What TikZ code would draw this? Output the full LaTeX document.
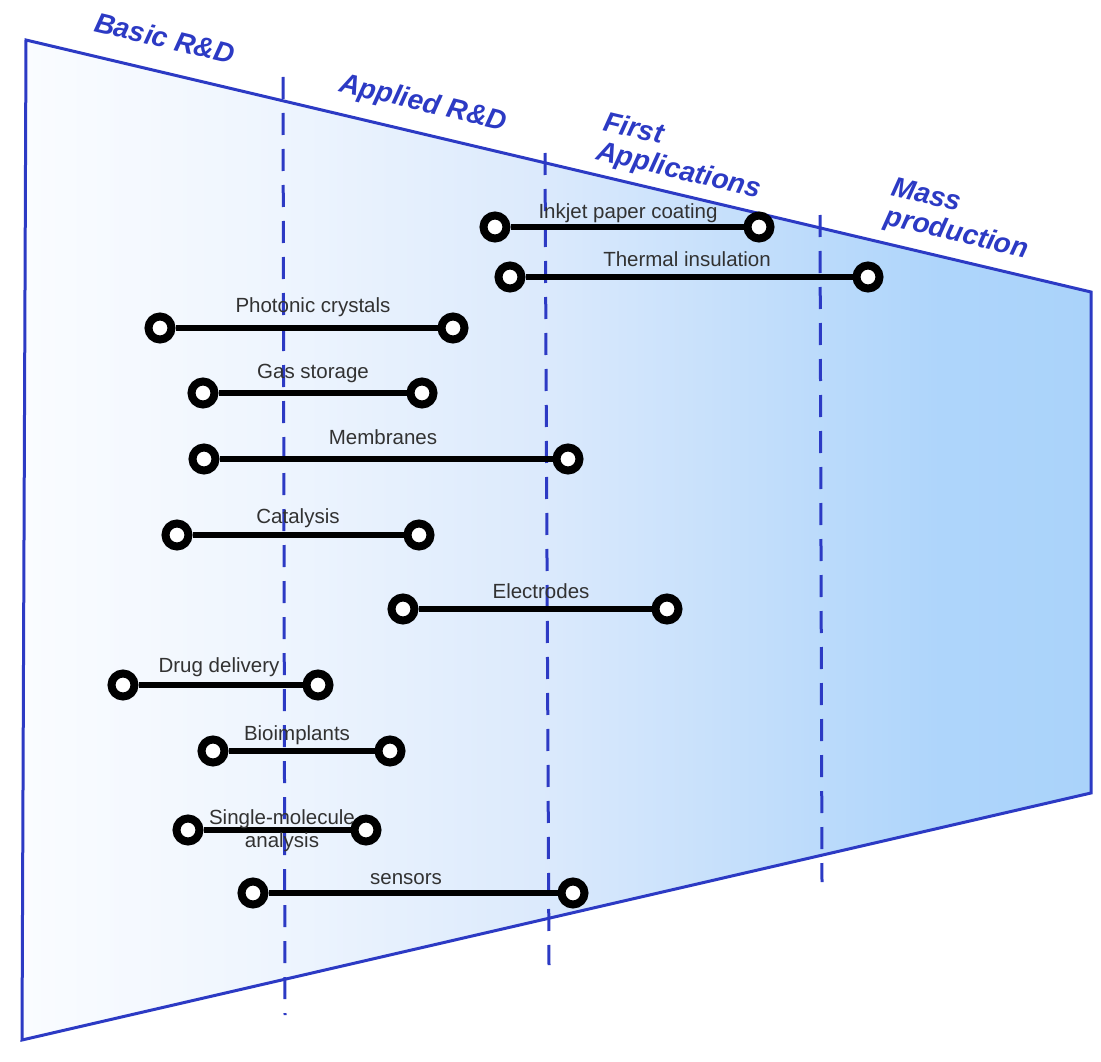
\documentclass[tikz,border=0pt]{standalone}
\usepackage{fontspec}
\setmainfont{Liberation Sans}
\definecolor{stageblue}{RGB}{44,58,196}
\definecolor{labelgray}{RGB}{50,50,50}
\definecolor{sf0}{RGB}{250,252,255}
\definecolor{sf1}{RGB}{238,245,254}
\definecolor{sf2}{RGB}{220,234,252}
\definecolor{sf3}{RGB}{188,219,251}
\definecolor{sf4}{RGB}{174,213,251}
\definecolor{sf5}{RGB}{170,211,250}
\pgfdeclarehorizontalshading{stagefill}{100bp}{color(0bp)=(sf0); color(25bp)=(sf0); color(37bp)=(sf1); color(49bp)=(sf2); color(62bp)=(sf3); color(68bp)=(sf4); color(75bp)=(sf5); color(100bp)=(sf5)}
\tikzset{
  ring/.style={circle, draw=black, fill=white, line width=8pt, minimum size=23pt, inner sep=0pt},
  bar/.style={draw=black, line width=6pt},
  applabel/.style={text=labelgray, font=\fontsize{20.5}{23}\selectfont, inner sep=0pt, align=center},
  stagelabel/.style={text=stageblue, font=\fontsize{28}{30}\selectfont\bfseries\itshape, inner sep=0pt, align=left, rotate=-13.3},
  divider/.style={draw=stageblue, line width=3pt, dash pattern=on 22pt off 14pt},
  frame/.style={draw=stageblue, line width=3pt, line join=miter}
}
\begin{document}
\begin{tikzpicture}[x=1pt, y=-1pt]
\useasboundingbox (0,0) rectangle (1101,1062);

% funnel of development stages
\coordinate (tl) at (26,40);
\coordinate (tr) at (1091,292);
\coordinate (br) at (1091,793);
\coordinate (bl) at (22,1040);
\shade[shading=stagefill] (tl) -- (tr) -- (br) -- (bl) -- cycle;

% stage dividers
\draw[divider] (283,77) -- (285,1015);
\draw[divider] (545,153) -- (549,965);
\draw[divider] (820,215) -- (822,882);

\draw[frame] (tl) -- (tr) -- (br) -- (bl) -- cycle;

% stage names
\node[stagelabel] (basic) at (165,38) {Basic R\&D};
\node[stagelabel] (applied) at (423,104) {Applied R\&D};
\node[stagelabel] (first) at (682,157) {First\\Applications};
\node[stagelabel] (mass) at (960,220) {Mass\\production};

% application ranges
\node[ring] (inkL) at (495,227) {};
\node[ring] (inkR) at (759,227) {};
\draw[bar] (inkL) -- (inkR);
\node[applabel] (inkT) at (628,213) {Inkjet paper coating};

\node[ring] (thL) at (510,277) {};
\node[ring] (thR) at (868,277) {};
\draw[bar] (thL) -- (thR);
\node[applabel] (thT) at (687,259) {Thermal insulation};

\node[ring] (phL) at (160,328) {};
\node[ring] (phR) at (453,328) {};
\draw[bar] (phL) -- (phR);
\node[applabel] (phT) at (313,307) {Photonic crystals};

\node[ring] (gsL) at (203,393) {};
\node[ring] (gsR) at (422,393) {};
\draw[bar] (gsL) -- (gsR);
\node[applabel] (gsT) at (313,373) {Gas storage};

\node[ring] (mbL) at (204,459) {};
\node[ring] (mbR) at (568,459) {};
\draw[bar] (mbL) -- (mbR);
\node[applabel] (mbT) at (383,437) {Membranes};

\node[ring] (caL) at (177,535) {};
\node[ring] (caR) at (419,535) {};
\draw[bar] (caL) -- (caR);
\node[applabel] (caT) at (298,518) {Catalysis};

\node[ring] (elL) at (403,609) {};
\node[ring] (elR) at (667,609) {};
\draw[bar] (elL) -- (elR);
\node[applabel] (elT) at (541,591) {Electrodes};

\node[ring] (ddL) at (123,685) {};
\node[ring] (ddR) at (318,685) {};
\draw[bar] (ddL) -- (ddR);
\node[applabel] (ddT) at (219,667) {Drug delivery};

\node[ring] (biL) at (213,751) {};
\node[ring] (biR) at (390,751) {};
\draw[bar] (biL) -- (biR);
\node[applabel] (biT) at (297,735) {Bioimplants};

\node[ring] (smL) at (188,830) {};
\node[ring] (smR) at (366,830) {};
\draw[bar] (smL) -- (smR);
\node[applabel] (smT) at (282,831) {Single-molecule\\analysis};

\node[ring] (snL) at (253,893) {};
\node[ring] (snR) at (573,893) {};
\draw[bar] (snL) -- (snR);
\node[applabel] (snT) at (406,879) {sensors};
\end{tikzpicture}
\end{document}
